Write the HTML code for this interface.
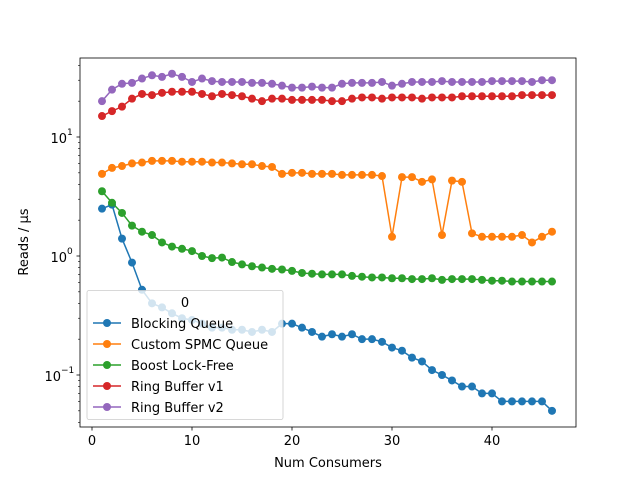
<!DOCTYPE html>
<html><head><meta charset="utf-8"><style>
body{margin:0;background:#fff}
svg{display:block;font-family:"DejaVu Sans","Liberation Sans",sans-serif}
</style></head><body>
<svg id="c" width="640" height="480"></svg>
<script>
const xs = Array.from({length:46},(_,i)=>i+1);
const blocking = [2.5,2.7,1.4,0.88,0.52,0.40,0.37,0.33,0.30,0.29,0.27,0.25,0.25,0.24,0.24,0.23,0.24,0.23,0.27,0.27,0.25,0.23,0.21,0.22,0.21,0.22,0.20,0.20,0.19,0.17,0.16,0.14,0.13,0.11,0.10,0.09,0.08,0.08,0.07,0.07,0.06,0.06,0.06,0.06,0.06,0.05];
const spmc = [4.9,5.5,5.7,6.0,6.1,6.3,6.3,6.3,6.2,6.2,6.2,6.1,6.1,6.0,5.9,5.9,5.7,5.6,4.9,5.0,5.0,4.9,4.9,4.9,4.8,4.8,4.8,4.8,4.7,1.45,4.6,4.6,4.2,4.4,1.5,4.3,4.2,1.55,1.45,1.45,1.45,1.45,1.5,1.3,1.45,1.6];
const boost = [3.5,2.8,2.3,1.8,1.6,1.5,1.3,1.2,1.15,1.1,1.0,0.96,0.97,0.89,0.85,0.82,0.80,0.78,0.77,0.75,0.72,0.71,0.70,0.70,0.70,0.68,0.67,0.66,0.66,0.65,0.65,0.64,0.64,0.65,0.63,0.64,0.64,0.64,0.63,0.62,0.62,0.61,0.61,0.61,0.61,0.61];
const ring1 = [15,16.5,18,21,23,22.5,23.5,24,24,24,23,22,23,22.5,22,21,20,21,21,20.5,20.5,20.5,20.5,20,20,21,21.5,21.5,21,21.5,21.5,21.5,21,21.5,21.5,21.5,22,22,22,22,22,22,22.5,22.5,22.5,22.5];
const ring2 = [20,25,28,28.5,31,33,32,34,32,29,31,29.5,29,29,29,28.5,28.5,28,27,26,26,26.5,26,26,28,28.5,28.5,28.5,29,27,28,29,29,29,29.5,29,29,29,29,29.5,29.5,29.5,29.5,29,30,30];
const seriesNames = ["Blocking Queue","Custom SPMC Queue","Boost Lock-Free","Ring Buffer v1","Ring Buffer v2"];
const xTicks = [0,10,20,30,40];
const yTickLabels = ["10","10","10"];
const yTickExp = [-1,0,1];

const L=80,R=576,T=58,B=427;
const X=v=>92+v*10;
const Y=v=>256-Math.log10(v)*119;
const svg=document.getElementById('c');
const NS='http://www.w3.org/2000/svg';
function mk(t,a,p){const e=document.createElementNS(NS,t);for(const k in a)e.setAttribute(k,a[k]);(p||svg).appendChild(e);return e;}
const colors=["#1f77b4","#ff7f0e","#2ca02c","#d62728","#9467bd"];
const data=[blocking,spmc,boost,ring1,ring2];
const plot=mk('g',{});


data.forEach((d,si)=>{
  const g=mk('g',{},plot);
  
  
  mk('polyline',{points:d.map((v,i)=>X(xs[i])+','+Y(v)).join(' '),fill:'none',stroke:colors[si],'stroke-width':1.5},g);
  d.forEach((v,i)=>{const c=mk('circle',{cx:X(xs[i]),cy:Y(v),r:4,fill:colors[si]},g);
    
    });
});
const fr=mk('rect',{x:L,y:T,width:R-L,height:B-T,fill:'none',stroke:'#000','stroke-width':0.8});


xTicks.forEach(t=>{
  mk('line',{x1:X(t),x2:X(t),y1:B,y2:B+3.5,stroke:'#000','stroke-width':0.8});
  const tx=mk('text',{x:X(t),y:B+18,'font-size':13,'text-anchor':'middle'});tx.textContent=t;
  
  
});
yTickExp.forEach((e,i)=>{
  const y=Y(Math.pow(10,e));
  mk('line',{x1:L-3.5,x2:L,y1:y,y2:y,stroke:'#000','stroke-width':0.8});
  const tx=mk('text',{x:e<0?L-19:L-13,y:y+6,'font-size':13,'text-anchor':'end'});tx.textContent=yTickLabels[i];
  
  
  const sp=mk('text',{x:e<0?L-19:L-13,y:y-2,'font-size':9});sp.textContent=e<0?'\u22121':String(e);
  
  
});
for(let e=-2;e<=1;e++)for(let m=2;m<=9;m++){const y=Y(m*Math.pow(10,e));if(y>T&&y<B)mk('line',{x1:L-2,x2:L,y1:y,y2:y,stroke:'#000','stroke-width':0.6});}
const xl=mk('text',{x:(L+R)/2,y:467,'font-size':13,'text-anchor':'middle'});xl.textContent='Num Consumers';


const yl=mk('text',{x:0,y:0,'font-size':13,'text-anchor':'middle',transform:'translate(28,242) rotate(-90)'});yl.textContent='Reads / \u03bcs';


const lg=mk('g',{});


mk('rect',{x:87,y:290.5,width:196,height:129,rx:2,fill:'#fff','fill-opacity':0.8,stroke:'#ccc','stroke-width':0.8},lg);
const lt=mk('text',{x:185,y:307,'font-size':13,'text-anchor':'middle'},lg);lt.textContent='0';


seriesNames.forEach((n,i)=>{
  const y=323+i*21;
  const g=mk('g',{},lg);
  
  
  mk('line',{x1:93,x2:121,y1:y,y2:y,stroke:colors[i],'stroke-width':1.5},g);
  mk('circle',{cx:107,cy:y,r:4,fill:colors[i]},g);
  const t=mk('text',{x:131,y:y+5,'font-size':13},g);t.textContent=n;
});
</script>
</body></html>
